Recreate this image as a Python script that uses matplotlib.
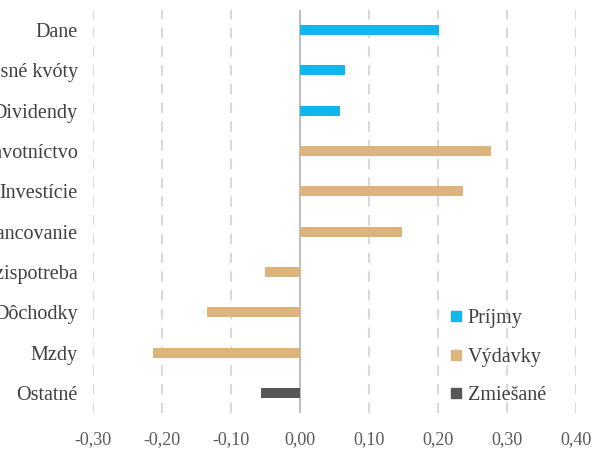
import matplotlib
matplotlib.use("Agg")
import matplotlib.pyplot as plt
from matplotlib.lines import Line2D

categories = ["Dane", "Emisné kvóty", "Dividendy", "Zdravotníctvo", "Investície",
              "Financovanie", "Medzispotreba", "Dôchodky", "Mzdy", "Ostatné"]
values = [0.201, 0.065, 0.058, 0.277, 0.236, 0.148, -0.051, -0.135, -0.213, -0.057]
groups = ["Príjmy", "Príjmy", "Príjmy", "Výdavky", "Výdavky", "Výdavky",
          "Výdavky", "Výdavky", "Výdavky", "Zmiešané"]
group_names = ["Príjmy", "Výdavky", "Zmiešané"]
group_colors = {"Príjmy": "#13B6EB", "Výdavky": "#DCB47C", "Zmiešané": "#575757"}
xticks = [-0.30, -0.20, -0.10, 0.00, 0.10, 0.20, 0.30, 0.40]
xticklabels = ["-0,30", "-0,20", "-0,10", "0,00", "0,10", "0,20", "0,30", "0,40"]

plt.rcParams['font.family'] = ['Liberation Serif', 'DejaVu Serif']

fig = plt.figure(figsize=(5.97, 4.5), dpi=100)
ax = fig.add_axes([93/597, 1 - 413/450, (576 - 93)/597, (413 - 10)/450])

ypos = list(range(len(categories)))
ax.barh(ypos, values, height=0.25, color=[group_colors[g] for g in groups], zorder=3)
ax.set_ylim(len(categories) - 0.5, -0.5)
ax.set_xlim(-0.30, 0.40)

ax.set_yticks(ypos)
ax.set_yticklabels(categories, fontsize=14.5, color="#404040")
ax.set_xticks(xticks)
ax.set_xticklabels(xticklabels, fontsize=13, color="#595959")
ax.tick_params(axis='both', length=0)
ax.tick_params(axis='y', pad=11)
ax.tick_params(axis='x', pad=13)

for x in xticks:
    if x == 0:
        ax.axvline(x, color="#BFBFBF", lw=1.5, zorder=2)
    else:
        ax.axvline(x, color="#D9D9D9", lw=1.5, ls=(0, (5, 4)), zorder=1)

for s in ax.spines.values():
    s.set_visible(False)

handles = [Line2D([], [], marker='s', ls='none', markersize=7,
                  markerfacecolor=group_colors[g], markeredgecolor=group_colors[g])
           for g in group_names]
leg = ax.legend(handles, group_names, loc='lower right', bbox_to_anchor=(0.975, -0.025),
                frameon=False, fontsize=14.5, labelspacing=0.95, handletextpad=0.05,
                handlelength=1.0, labelcolor="#404040")

fig.savefig("out.png", dpi=100)
